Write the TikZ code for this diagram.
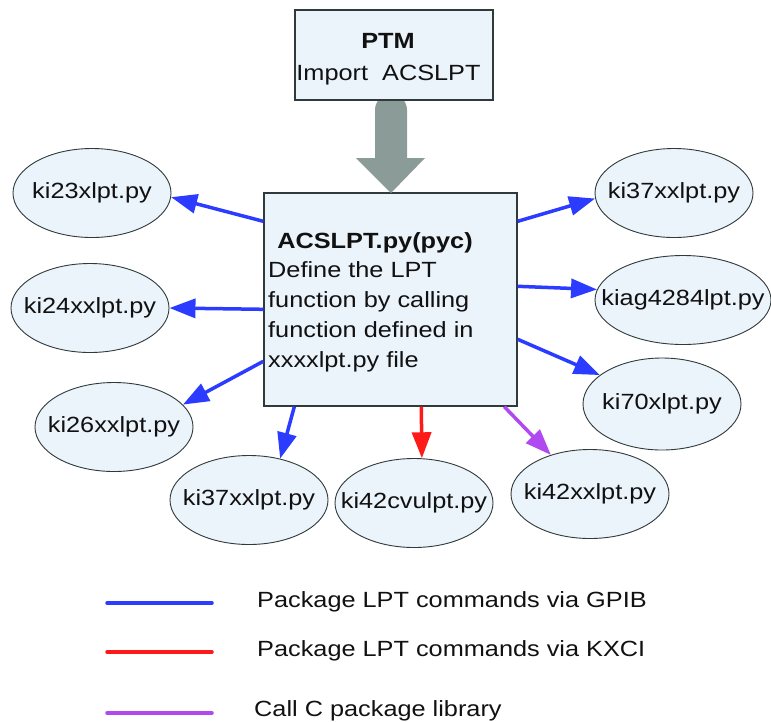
\documentclass[tikz,border=0pt]{standalone}
\usepackage{fontspec}
\setmainfont{Liberation Sans}[FakeStretch=1.15]
\usetikzlibrary{arrows.meta,calc,shapes.geometric}
\definecolor{boxfill}{HTML}{EBF3FB}
\definecolor{boxline}{HTML}{2F3A3A}
\definecolor{grayarrow}{HTML}{8B9C98}
\definecolor{gpib}{HTML}{2B3BFF}
\definecolor{kxci}{HTML}{FF1A1A}
\definecolor{clib}{HTML}{B04AF0}
\definecolor{txt}{HTML}{111111}
\newcommand{\fname}[1]{\makebox[0pt]{#1}}
\tikzset{
  box/.style={draw=boxline,line width=1.4pt,fill=boxfill,rectangle,inner sep=0pt},
  file/.style={draw=boxline,line width=0.9pt,fill=boxfill,ellipse,inner sep=0pt,
    minimum width=158pt,minimum height=89pt,text=txt,font=\fontsize{22}{26}\selectfont},
  lab/.style={text=txt,inner sep=0pt,font=\fontsize{22}{30}\selectfont},
  conn/.style={line width=3.5pt,-{Triangle[length=26pt,width=19pt]}},
  legline/.style={line width=3.5pt,line cap=round},
}
\begin{document}
\begin{tikzpicture}[x=1pt,y=-1pt]
\useasboundingbox (0,0) rectangle (771,721);
% main box
\node[box,minimum width=253pt,minimum height=213pt] (main) at (390.5,299.5) {};
% thick gray arrow
\fill[grayarrow] (375,158) -- (375,110) arc[start angle=180,end angle=0,radius=16pt]
  -- (407,158) -- (425,158) -- (391,193) -- (356,158) -- cycle;
% PTM box
\node[box,minimum width=198pt,minimum height=90pt] (ptm) at (394,55) {};
\node[lab,anchor=base] (ptmt) at (388,48) {\bfseries PTM};
\node[lab,anchor=base] (ptmi) at (388.5,80) {Import~~ACSLPT};
\node[lab,anchor=base] (title) at (375,248) {\bfseries ACSLPT.py(pyc)};
\node[lab,anchor=base west] (l1) at (268,277) {Define the LPT};
\node[lab,anchor=base west] (l2) at (268,307) {function by calling};
\node[lab,anchor=base west] (l3) at (268,337) {function defined in};
\node[lab,anchor=base west] (l4) at (268,367) {xxxxlpt.py file};
% files
\node[file] (e23) at (92,193) {\fname{ki23xlpt.py}};
\node[file] (e24) at (90,308) {\fname{ki24xxlpt.py}};
\node[file] (e26) at (114,427) {\fname{ki26xxlpt.py}};
\node[file] (e37r) at (674,193) {\fname{ki37xxlpt.py}};
\node[file,minimum width=176pt] (eag) at (683,300) {\fname{kiag4284lpt.py}};
\node[file,minimum height=92pt] (e70) at (662,404) {\fname{ki70xlpt.py}};
\node[file] (e37b) at (249,500) {\fname{ki37xxlpt.py}};
\node[file] (e42cv) at (414,503) {\fname{ki42cvulpt.py}};
\node[file] (e42xx) at (590,494) {\fname{ki42xxlpt.py}};
% connectors
\draw[conn,gpib] ([yshift=-29pt]main.north west) -- (e23.-3);
\draw[conn,gpib] ([yshift=-117pt]main.north west) -- (e24.east);
\draw[conn,gpib] ([yshift=-169pt]main.north west) -- (e26.18);
\draw[conn,gpib] ([yshift=-29pt]main.north east) -- (e37r.184);
\draw[conn,gpib] ([yshift=-94pt]main.north east) -- (eag.173);
\draw[conn,gpib] ([yshift=-147pt]main.north east) -- (e70.155);
\draw[conn,gpib] ([xshift=31pt]main.south west) -- (e37b.53);
\draw[conn,kxci] ([xshift=158pt]main.south west) -- (e42cv.80);
\draw[conn,clib] ([xshift=241pt]main.south west) -- (e42xx.135);
% legend
\coordinate (g1a) at (107,603); \coordinate (g1b) at (212,603);
\coordinate (g2a) at (107,652); \coordinate (g2b) at (212,652);
\coordinate (g3a) at (107,713); \coordinate (g3b) at (212,713);
\draw[legline,gpib] (g1a) -- (g1b);
\draw[legline,kxci] (g2a) -- (g2b);
\draw[legline,clib] (g3a) -- (g3b);
\node[lab,anchor=base west] (t1) at (257,607) {Package LPT commands via GPIB};
\node[lab,anchor=base west] (t2) at (257,656) {Package LPT commands via KXCI};
\node[lab,anchor=base west] (t3) at (254,716) {Call C package library};
\end{tikzpicture}
\end{document}
